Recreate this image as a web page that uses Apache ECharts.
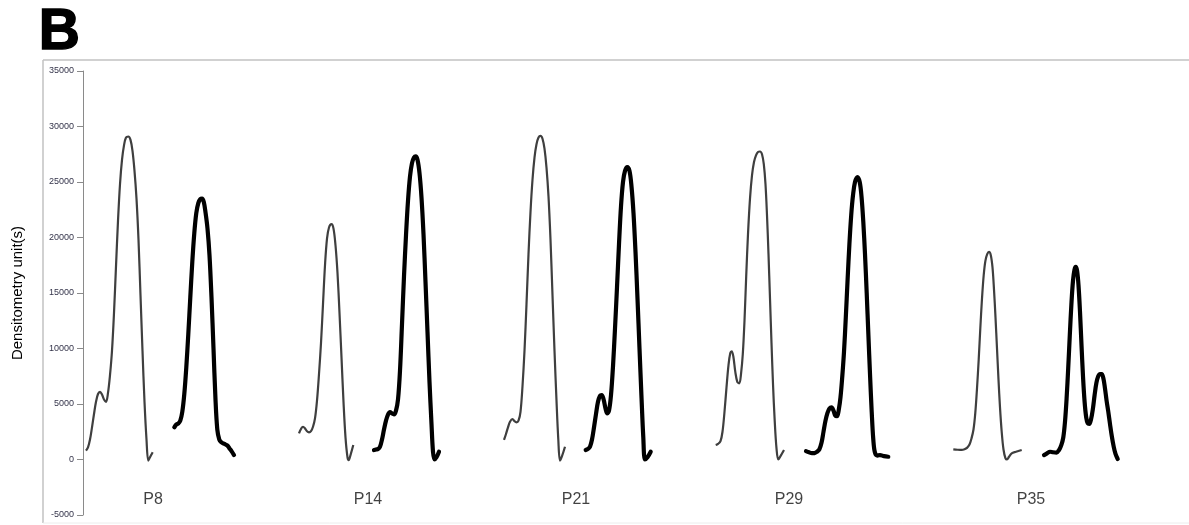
<!DOCTYPE html>
<html>
<head>
<meta charset="utf-8">
<script src="https://cdn.jsdelivr.net/npm/echarts@6/dist/echarts.min.js"></script>
<style>
html,body{margin:0;padding:0;background:#fff;}
#chart{width:1189px;height:525px;}
</style>
</head>
<body>
<div id="chart"></div>
<script>
// Lane position (x, arbitrary units) and densitometry value (y)
const P8_gray = [[86,800],[88,1100],[90,1800],[92,2900],[94,4100],[96,5200],[98,5900],[100,6100],[102,5850],[104,5400],[106,5200],[108,6000],[110,7600],[112,9800],[114,13200],[116,17400],[118,21500],[120,24800],[122,27000],[124,28300],[126,29000],[128.3,29100],[130.5,28800],[132.5,27800],[134.5,26000],[136.5,23500],[138.5,19800],[140.5,14800],[142.5,9800],[144.5,5200],[146.5,1800],[148.3,-100],[150,200],[152.7,650]];
const P8_black = [[174.3,2900],[176.3,3150],[178.3,3250],[180.3,3500],[182.3,4300],[184.3,5900],[186.3,8300],[188.3,11300],[190.3,14600],[192.3,17800],[194.3,20400],[196.3,22200],[198.3,23100],[200.3,23450],[202,23500],[203.8,23200],[205.6,22200],[207.5,20800],[209.5,18400],[211.5,14600],[213.5,10000],[215.4,5600],[217.3,2700],[219.3,1800],[221.3,1550],[223.3,1450],[225.5,1350],[227.5,1250],[229.5,1000],[231.5,750],[234,400]];
const P14_gray = [[299,2360],[301,2750],[303,2950],[305,2800],[307,2550],[309,2450],[311,2550],[313,2950],[315,3700],[317,5300],[319,7700],[321,10500],[323,14000],[325,17500],[327,19900],[329,20900],[331.5,21200],[333.5,20800],[335.5,19300],[337.5,16800],[339.5,13200],[341.5,9200],[343.5,5200],[345.5,2000],[347.5,200],[348.7,-50],[350.5,400],[353.3,1300]];
const P14_black = [[374,850],[376,900],[378,950],[380,1150],[382,1800],[384,2700],[386,3500],[388,4050],[390,4280],[392,4150],[394,4070],[396,4400],[398,5400],[400,8000],[402,12200],[404,16500],[406,20200],[408,23300],[410,25500],[412,26700],[414,27200],[415.7,27300],[417.5,27000],[419.5,25800],[421.5,23600],[423.5,20300],[425.5,16000],[427.5,11500],[429.5,7000],[431.5,3200],[433,700],[434.5,0],[436.5,200],[439,700]];
const P21_gray = [[504,1760],[506,2300],[508,2900],[510,3400],[512.5,3650],[514.5,3450],[516.5,3350],[518.5,3500],[520.5,4300],[522.5,6600],[524.5,9800],[526.5,14000],[528.5,18500],[530.5,22300],[532.5,25200],[534.5,27200],[536.5,28400],[538.5,29000],[540.5,29150],[542.5,28900],[544.5,28000],[546.5,26300],[548.5,23700],[550.5,19800],[552.5,14800],[554.5,9800],[556.5,5300],[558.3,1800],[560,-100],[562,300],[565,1150]];
const P21_black = [[585.7,850],[588,950],[590,1150],[592,1800],[594,2900],[596,4100],[598,5200],[600,5750],[601.7,5810],[603.5,5450],[605.5,4600],[607.3,4150],[609,4400],[611,5800],[613,8400],[615,11800],[617,15500],[619,19400],[621,22800],[623,25000],[625,26000],[627.3,26350],[629.5,26000],[631.5,24600],[633.5,22200],[635.5,18700],[637.5,14500],[639.5,10000],[641.5,5600],[643.3,2000],[645,0],[647.5,200],[650.7,700]];
const P29_gray = [[715.7,1300],[718,1400],[720.5,1650],[722.5,2500],[724.5,4300],[726.5,6500],[728.5,8500],[730.3,9600],[731.7,9750],[733.3,9300],[735.3,7900],[737.3,7000],[739.3,6860],[741,7700],[742.8,9500],[744.5,12500],[746.2,16500],[748,20300],[750,23500],[752,25600],[754,26800],[756,27400],[758,27700],[760,27750],[762,27500],[763.8,26600],[765.5,24800],[767,22000],[768.5,18500],[770,14500],[771.5,10500],[773,6800],[774.7,3500],[776.5,1000],[778.3,0],[780.5,300],[784,850]];
const P29_black = [[806,760],[809,650],[812,570],[814.5,580],[817,700],[819.3,900],[821.5,1500],[823.5,2500],[825.5,3500],[827.5,4200],[829.5,4600],[831.5,4700],[833.5,4400],[835.3,3950],[837,3900],[838.8,4500],[840.5,5600],[842.3,7500],[844,9700],[845.8,12800],[847.6,16200],[849.4,19400],[851.2,22000],[853,23800],[855,25000],[857.5,25450],[859.7,25000],[861.5,23700],[863.3,21400],[865,18500],[866.7,15000],[868.4,11200],[870,7700],[871.7,4300],[873.3,1800],[875,600],[877.5,350],[880,400],[884,300],[888.3,250]];
const P35_gray = [[953.3,920],[957.5,880],[961.7,860],[964.5,920],[967,1050],[969.5,1350],[971.5,1900],[973.5,2700],[975.3,4200],[977,6400],[978.7,9000],[980.3,11800],[982,14500],[983.7,16600],[985.4,17900],[987.2,18500],[989,18700],[990.8,18400],[992.5,17300],[994,15300],[995.5,12800],[997,10000],[998.5,7200],[1000,4700],[1001.7,2500],[1003.5,900],[1005.5,100],[1007,0],[1009,250],[1011.7,560],[1016,700],[1021.7,860]];
const P35_black = [[1044,400],[1047,550],[1050,700],[1053,650],[1056.5,620],[1059,850],[1061.3,1300],[1063.3,2000],[1065,3400],[1066.6,5500],[1068.2,8200],[1069.8,11200],[1071.4,14000],[1073,16100],[1074.5,17100],[1075.8,17350],[1077.1,17000],[1078.5,15700],[1080,13300],[1081.5,10300],[1083,7500],[1084.6,5200],[1086.2,3800],[1087.8,3250],[1089.3,3200],[1091,3600],[1092.8,4500],[1094.6,5800],[1096.4,6900],[1098.2,7500],[1100,7700],[1101.7,7700],[1103.4,7300],[1105,6400],[1106.6,5300],[1108.3,4300],[1110,3200],[1111.8,2100],[1113.6,1200],[1115.5,500],[1117.7,50]];

const groupLabels = ['P8','P14','P21','P29','P35'];
const groupLabelX = [153,368,576,789,1031];
const groupLabelY = -3650;

const yTicks = {min:-5000, max:35000, interval:5000};
const yAxisTitle = 'Densitometry unit(s)';
const panelLetter = 'B';

const grayCurves = [P8_gray,P14_gray,P21_gray,P29_gray,P35_gray];
const blackCurves = [P8_black,P14_black,P21_black,P29_black,P35_black];

const series = [];
grayCurves.forEach(d => series.push({
  type:'line', data:d, showSymbol:false, smooth:0.35,
  lineStyle:{color:'#3f3f3f', width:2.2, join:'round'}, z:3, silent:true
}));
blackCurves.forEach(d => series.push({
  type:'line', data:d, showSymbol:false, smooth:0.35,
  lineStyle:{color:'#000000', width:4.2, cap:'round', join:'round'}, z:4, silent:true
}));
series.push({
  type:'scatter', symbolSize:0, silent:true,
  data: groupLabels.map((n,i)=>({value:[groupLabelX[i], groupLabelY], name:n})),
  label:{show:true, position:'inside', formatter:p=>p.name, fontFamily:'Liberation Sans, Arial', fontSize:16, color:'#111'}
});

const chart = echarts.init(document.getElementById('chart'), null, {renderer:'canvas'});
chart.setOption({
  animation:false,
  backgroundColor:'#fff',
  grid:{left:83, right:9, top:71, bottom:10, containLabel:false},
  xAxis:{type:'value', min:83, max:1180, show:false},
  yAxis:{
    type:'value', min:yTicks.min, max:yTicks.max, interval:yTicks.interval,
    name:yAxisTitle, nameLocation:'middle', nameGap:58, nameRotate:90,
    nameTextStyle:{fontFamily:'Liberation Sans, Arial', fontSize:15, color:'#000'},
    axisLine:{show:true, lineStyle:{color:'#8a8a8a', width:1}},
    axisTick:{show:true, length:6, lineStyle:{color:'#8a8a8a'}},
    axisLabel:{margin:9, fontFamily:'Liberation Sans, Arial', fontSize:9, color:'#34344a', formatter:v=>String(v)},
    splitLine:{show:false}
  },
  graphic:[
    {type:'line', shape:{x1:43, y1:60, x2:1189, y2:60}, style:{stroke:'#c2c2c2', lineWidth:1.5}},
    {type:'line', shape:{x1:43, y1:60, x2:43, y2:523}, style:{stroke:'#c2c2c2', lineWidth:1.5}},
    {type:'line', shape:{x1:43, y1:523, x2:1189, y2:523}, style:{stroke:'#ececec', lineWidth:1}},
    {type:'text', left:38, top:4, style:{text:panelLetter, font:'bold 57px "Liberation Sans", Arial', fill:'#000', stroke:'#000', lineWidth:1.5}}
  ],
  series:series
});
</script>
</body>
</html>
